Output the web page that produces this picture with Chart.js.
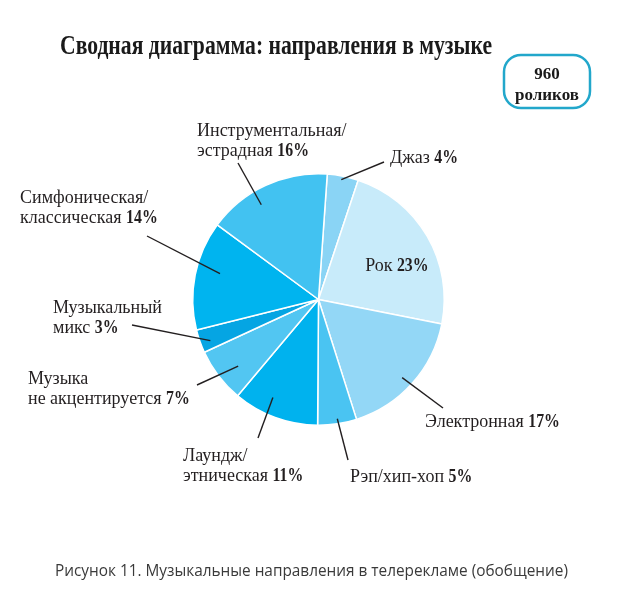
<!DOCTYPE html>
<html lang="ru">
<head>
<meta charset="utf-8">
<title>Сводная диаграмма: направления в музыке</title>
<script src="https://cdn.jsdelivr.net/npm/chart.js@4.4.1/dist/chart.umd.min.js"></script>
<style>
  html, body { margin: 0; padding: 0; background: #fff; }
  canvas { display: block; }
</style>
</head>
<body>
<canvas id="musicChart" width="635" height="595"></canvas>
<script>
// Music genres in TV ads, share of clips (%)
const categories = [
    'Джаз',
    'Рок',
    'Электронная',
    'Рэп/хип-хоп',
    'Лаундж/этническая',
    'Музыка не акцентируется',
    'Музыкальный микс',
    'Симфоническая/классическая',
    'Инструментальная/эстрадная'
];
const shares = [4, 23, 17, 5, 11, 7, 3, 14, 16];
const clipCount = 960;

// each label line is [plain part, bold part]
const labelLines = [
    [['Джаз ', '4%']],
    [['Рок ', '23%']],
    [['Электронная ', '17%']],
    [['Рэп/хип-хоп ', '5%']],
    [['Лаундж/', ''], ['этническая ', '11%']],
    [['Музыка', ''], ['не акцентируется ', '7%']],
    [['Музыкальный', ''], ['микс ', '3%']],
    [['Симфоническая/', ''], ['классическая ', '14%']],
    [['Инструментальная/', ''], ['эстрадная ', '16%']]
];

const titleText = 'Сводная диаграмма: направления в музыке';
const captionText = 'Рисунок 11. Музыкальные направления в телерекламе (обобщение)';

const sliceColors = [
    '#8ad4f5', '#c8ebfa', '#93d7f6', '#4ac4f2', '#00b2ee',
    '#52c6f2', '#05a5e3', '#00b4ef', '#42c2f1'
];

// where each label sits; t/rf pick the leader start inside the slice
const labelLayout = [
    { x: 390, y: 163, endX: 384, endY: 162, t: 0.47, rf: 0.97 },
    { inside: true, t: 0.58, rf: 0.68 },
    { x: 425, y: 427, endX: 443, endY: 408, t: 0.52, rf: 0.91 },
    { x: 350, y: 482, endX: 348, endY: 460, t: 0.48, rf: 0.96 },
    { x: 183, y: 461, endX: 258, endY: 438, t: 0.62, rf: 0.86 },
    { x: 28, y: 384, endX: 197, endY: 385, t: 0.41, rf: 0.83 },
    { x: 53, y: 313, endX: 132, endY: 325, t: 0.37, rf: 0.92 },
    { x: 20, y: 203, endX: 147, endY: 236, t: 0.57, rf: 0.81 },
    { x: 197, y: 136, endX: 238, endY: 163, t: 0.39, rf: 0.88 }
];

const SERIF = '"Liberation Serif", "DejaVu Serif", serif';
const LABEL_SIZE = 18;
const LINE_GAP = 20;

function drawLabelLine(ctx, parts, x, y, align) {
    const plainFont = `${LABEL_SIZE}px ${SERIF}`;
    const boldFont = `700 ${LABEL_SIZE}px ${SERIF}`;
    ctx.font = plainFont;
    const w1 = ctx.measureText(parts[0]).width;
    ctx.font = boldFont;
    // bold figures in the original are a bit narrower
    const w2 = ctx.measureText(parts[1]).width * 0.88;
    const startX = align === 'center' ? x - (w1 + w2) / 2 : x;
    ctx.textAlign = 'left';
    ctx.font = plainFont;
    ctx.fillText(parts[0], startX, y);
    if (parts[1]) {
        ctx.font = boldFont;
        ctx.fillText(parts[1], startX + w1, y, w2);
    }
}

const decorPlugin = {
    id: 'decor',
    beforeDraw(chart) {
        const ctx = chart.ctx;
        ctx.save();
        ctx.fillStyle = '#ffffff';
        ctx.fillRect(0, 0, chart.width, chart.height);
        ctx.restore();
    },
    afterDraw(chart) {
        const ctx = chart.ctx;
        const meta = chart.getDatasetMeta(0);
        ctx.save();
        ctx.textBaseline = 'alphabetic';

        // title
        ctx.fillStyle = '#1a1a1a';
        ctx.font = `700 27px ${SERIF}`;
        ctx.textAlign = 'left';
        ctx.fillText(titleText, 60, 54, 432);

        // badge with clip count
        ctx.strokeStyle = '#22a7cb';
        ctx.lineWidth = 2.5;
        ctx.beginPath();
        ctx.roundRect(504, 55, 86, 53, 17);
        ctx.stroke();
        ctx.textAlign = 'center';
        ctx.font = `700 17px ${SERIF}`;
        ctx.fillText(String(clipCount), 547, 79);
        ctx.fillText('роликов', 547, 100, 68);

        // slice labels with leader lines
        ctx.fillStyle = '#231f20';
        ctx.strokeStyle = '#231f20';
        ctx.lineWidth = 1.4;
        meta.data.forEach((arc, i) => {
            const lay = labelLayout[i];
            const a = arc.startAngle + (arc.endAngle - arc.startAngle) * lay.t;
            const px = arc.x + Math.cos(a) * arc.outerRadius * lay.rf;
            const py = arc.y + Math.sin(a) * arc.outerRadius * lay.rf;
            if (lay.inside) {
                drawLabelLine(ctx, labelLines[i][0], px, py + 6, 'center');
                return;
            }
            ctx.beginPath();
            ctx.moveTo(px, py);
            ctx.lineTo(lay.endX, lay.endY);
            ctx.stroke();
            labelLines[i].forEach((parts, k) => {
                drawLabelLine(ctx, parts, lay.x, lay.y + k * LINE_GAP, 'left');
            });
        });

        // caption
        ctx.fillStyle = '#3a3a3a';
        ctx.font = '16px "Open Sans", "Noto Sans", sans-serif';
        ctx.textAlign = 'left';
        ctx.fillText(captionText, 55, 576, 513);
        ctx.restore();
    }
};

new Chart(document.getElementById('musicChart').getContext('2d'), {
    type: 'pie',
    plugins: [decorPlugin],
    data: {
        labels: categories,
        datasets: [{
            data: shares,
            backgroundColor: sliceColors,
            borderColor: '#ffffff',
            borderWidth: 1.5,
            hoverOffset: 0
        }]
    },
    options: {
        responsive: false,
        animation: false,
        rotation: 4,
        layout: {
            padding: { left: 192, right: 190, top: 173, bottom: 169 }
        },
        plugins: {
            legend: { display: false },
            tooltip: { enabled: false }
        }
    }
});
</script>
</body>
</html>
